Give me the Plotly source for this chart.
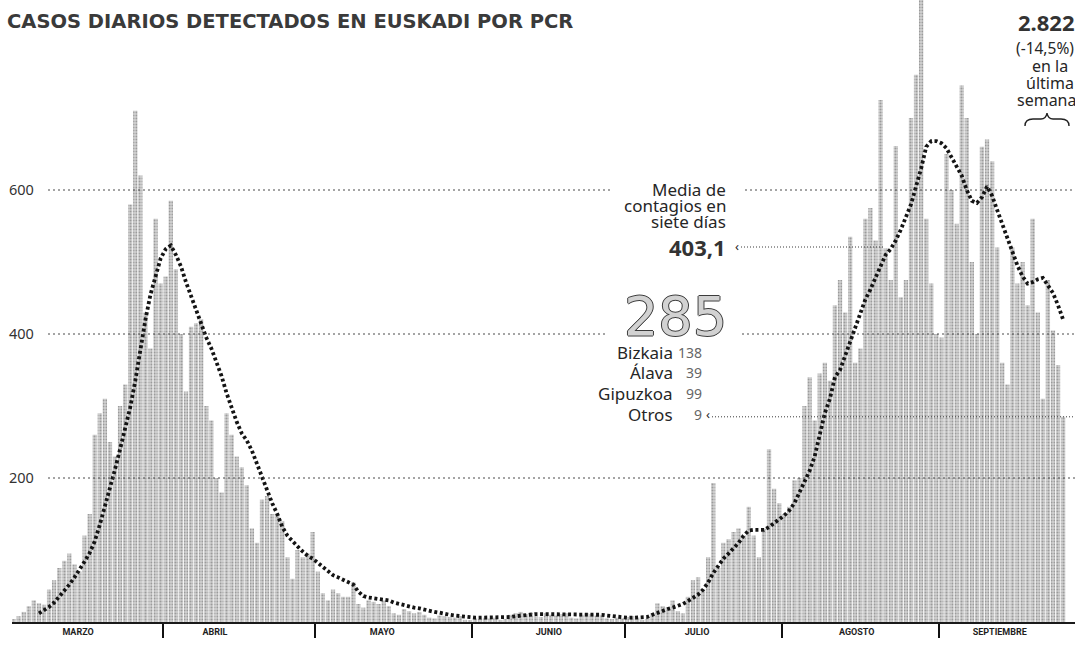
import plotly.graph_objects as go
import pandas as pd

# ---------------- data ----------------
start_date = "2020-03-01"

cases = [
    # marzo
    2, 4, 8, 14, 22, 30, 26, 24, 45, 58, 75, 85, 95, 80, 70, 120, 150, 260, 290, 310,
    250, 230, 300, 330, 580, 710, 620, 430, 380, 560, 470,
    # abril
    480, 585, 490, 400, 320, 410, 415, 420, 300, 280, 200, 180, 290, 260, 230, 215,
    190, 130, 110, 170, 175, 150, 150, 140, 90, 60, 100, 90, 95, 125,
    # mayo
    70, 40, 30, 45, 40, 35, 35, 55, 25, 20, 30, 28, 25, 30, 22, 12, 10, 18, 15, 12,
    14, 10, 6, 5, 9, 8, 7, 6, 8, 3, 2,
    # junio
    5, 4, 6, 5, 6, 3, 4, 10, 12, 14, 11, 13, 8, 7, 12, 10, 9, 11, 12, 6, 5, 10, 12,
    11, 9, 10, 5, 4, 6, 5,
    # julio
    7, 8, 6, 3, 4, 12, 26, 22, 20, 30, 15, 12, 35, 58, 62, 45, 90, 193, 75, 110, 115,
    125, 130, 120, 160, 120, 90, 130, 240, 185, 165,
    # agosto
    150, 160, 197, 200, 300, 340, 280, 345, 360, 335, 440, 475, 430, 535, 360, 380,
    560, 575, 530, 725, 519, 475, 661, 451, 475, 700, 760, 880, 560, 470, 400,
    # septiembre
    395, 650, 600, 553, 745, 700, 500, 400, 660, 670, 640, 520, 360, 330, 520, 470,
    500, 440, 560, 430, 310, 475, 405, 357, 285,
]

avg7 = [None] * 6 + [
    12, 16, 21, 27, 35, 43, 52, 62, 72, 84, 96, 112, 135, 160, 185, 212, 240, 268,
    298, 335, 380, 420, 455, 480, 505,
    518, 523, 510, 494, 472, 452, 432, 412, 395, 380, 362, 342, 318, 296, 278, 262,
    252, 238, 220, 200, 185, 165, 150, 132, 120, 112, 105, 98, 92, 88,
    82, 76, 70, 65, 62, 59, 56, 52, 42, 36, 34, 33, 33, 32, 30, 27, 25, 23, 21, 20,
    19, 17, 15, 14, 13, 11, 10, 9, 8, 7, 7,
    6, 6, 6, 6, 6, 6, 6, 7, 8, 9, 10, 11, 11, 11, 11, 11, 10, 10, 10, 10, 10, 10, 10,
    10, 10, 10, 9, 8, 7, 7,
    6, 6, 6, 6, 7, 10, 13, 16, 18, 20, 22, 25, 29, 34, 38, 45, 55, 68, 78, 88, 95,
    102, 110, 120, 127, 128, 128, 128, 132, 137, 142,
    148, 155, 165, 180, 195, 210, 230, 258, 290, 310, 340, 350, 370, 390, 410, 430,
    448, 462, 478, 495, 510, 518, 530, 545, 562, 580, 605, 630, 660, 668, 668,
    665, 658, 645, 632, 620, 600, 585, 582, 590, 605, 592, 572, 552, 532, 515, 495,
    480, 470, 472, 476, 478, 468, 457, 440, 420, 403.1,
]

month_starts = ["2020-04-01", "2020-05-01", "2020-06-01", "2020-07-01",
                "2020-08-01", "2020-09-01"]
month_label_pos = ["2020-03-15 05:00", "2020-04-11 05:00", "2020-05-14 05:00",
                   "2020-06-16 02:00", "2020-07-15 07:00", "2020-08-15 19:00",
                   "2020-09-13 00:00"]
month_labels = ["MARZO", "ABRIL", "MAYO", "JUNIO", "JULIO", "AGOSTO", "SEPTIEMBRE"]
y_ticks = [0, 200, 400, 600]
y_ticktext = ["0", "200", "400", "600"]

dates = pd.date_range(start_date, periods=len(cases), freq="D")

# ---------------- layout geometry ----------------
W, H = 1075, 646
L, R, T, B = 12, 0, 0, 24
PW, PH = W - L - R, H - T - B
origin_px = 6.0      # pixel of 1 March 00:00
px_per_day = 5.07
t0 = pd.Timestamp(start_date)
x_left = t0 + pd.Timedelta(days=(L - origin_px) / px_per_day)
x_right = t0 + pd.Timedelta(days=(W - R - origin_px) / px_per_day)
y_top = PH / 0.72


def px(x):
    return (x - L) / PW


def py(y):
    return (T + PH - y) / PH


TXT = "#262626"
FONT = "Noto Sans"

fig = go.Figure()

fig.add_trace(go.Bar(
    x=dates, y=cases,
    xperiod=86400000, xperiodalignment="middle",
    marker=dict(
        color="#cfcfcf",
        line=dict(width=0),
        pattern=dict(shape=".", fgcolor="#646464", bgcolor="#d3d3d3",
                     size=3, solidity=0.4),
    ),
    hoverinfo="skip",
))

fig.add_trace(go.Scatter(
    x=dates, y=avg7, mode="lines",
    xperiod=86400000, xperiodalignment="middle",
    line=dict(color="#141414", width=3.8, dash="3px,2.6px"),
    connectgaps=False, hoverinfo="skip",
))

shapes = []
# gridlines (dotted, drawn above bars, interrupted by the text block)
grid_segments = {
    200: [(48, 1075)],
    400: [(48, 606), (742, 1075)],
    600: [(48, 610), (745, 1075)],
}
for val in y_ticks[1:]:
    for a, b in grid_segments[val]:
        shapes.append(dict(type="line", xref="paper", yref="y",
                           x0=px(a), x1=px(b), y0=val, y1=val, layer="above",
                           line=dict(color="#4a4a4a", width=1, dash="2px,3px")))

# leader from "403,1"
shapes.append(dict(type="line", xref="paper", yref="paper",
                   x0=px(741), x1=px(884), y0=py(247), y1=py(247), layer="above",
                   line=dict(color="#3a3a3a", width=1, dash="1px,2px")))
# leader from "Otros 9" at the level of the last day's bar
shapes.append(dict(type="line", xref="paper", yref="y",
                   x0=px(712), x1=1, y0=cases[-1], y1=cases[-1], layer="above",
                   line=dict(color="#3a3a3a", width=1, dash="1px,2px")))

# brace under "semana"
pts = [(1025, 126), (1025, 119), (1033, 119), (1041, 119), (1046, 119), (1047, 113),
       (1048, 119), (1053, 119), (1061, 119), (1069, 119), (1069, 126)]
P = [f"{px(a):.5f},{py(b):.5f}" for a, b in pts]
path = (f"M {P[0]} Q {P[1]} {P[2]} L {P[3]} Q {P[4]} {P[5]} "
        f"Q {P[6]} {P[7]} L {P[8]} Q {P[9]} {P[10]}")
shapes.append(dict(type="path", xref="paper", yref="paper", path=path,
                   layer="above", line=dict(color="#222", width=1.4)))

anns = []


def ann(text, x, y, size, xanchor="center", weight="normal", color=TXT,
        family=FONT, shadow=None):
    f = dict(family=family, size=size, color=color, weight=weight)
    if shadow:
        f["shadow"] = shadow
    anns.append(dict(text=text, xref="paper", yref="paper", x=px(x), y=py(y),
                     xanchor=xanchor, yanchor="middle", showarrow=False,
                     font=f))


outline = "1px 0 0 #3c3c3c, -1px 0 0 #3c3c3c, 0 1px 0 #3c3c3c, 0 -1px 0 #3c3c3c"

# title
ann("CASOS DIARIOS DETECTADOS EN EUSKADI POR PCR", 5, 22, 19.5, "left", "bold",
    "#3a3a3a", "DejaVu Sans")

# 7-day average block
ann("Media de", 728, 190, 17, "right")
ann("contagios en", 728, 205.5, 17, "right")
ann("siete días", 728, 221, 17, "right")
ann("403,1", 728, 247, 22, "right", "bold", "#333333")
ann("‹", 737, 246, 13, "center")

# daily total block
ann("285", 729, 316, 54, "right", "normal", "#d2d2d2", "DejaVu Sans", outline)
rows = [("Bizkaia", "138", 352), ("Álava", "39", 372), ("Gipuzkoa", "99", 393),
        ("Otros", "9", 414)]
for lab, num, yy in rows:
    ann(lab, 675, yy, 17, "right")
    ann(num, 704, yy, 14, "right", "normal", "#666666")
ann("‹", 708, 414, 13, "center")

# weekly total block (right, cut by the edge)
ann("2.822", 1046, 22, 22, "center", "bold", "#333333")
ann("(-14,5%)", 1045, 48, 15.5, "center")
ann("en la", 1050, 66, 16, "center")
ann("última", 1050, 83, 16, "center")
ann("semana", 1047, 100, 16, "center")

fig.update_layout(
    width=W, height=H,
    margin=dict(l=L, r=R, t=T, b=B),
    plot_bgcolor="white", paper_bgcolor="white",
    showlegend=False, bargap=0.15,
    shapes=shapes, annotations=anns,
    xaxis=dict(
        type="date", range=[x_left, x_right],
        showgrid=False, zeroline=False,
        showline=True, linecolor="#1a1a1a", linewidth=1.5,
        tickmode="array", tickvals=month_label_pos, ticktext=month_labels,
        ticks="outside", ticklen=0, tickcolor="white",
        tickfont=dict(family="Roboto", size=9, color="#1e1e1e", weight="bold"),
        minor=dict(tickmode="array", tickvals=month_starts, ticks="outside",
                   ticklen=14, tickwidth=2, tickcolor="#111111", showgrid=False),
    ),
    yaxis=dict(
        range=[0, y_top], showgrid=False, zeroline=False, showline=False,
        tickmode="array", tickvals=y_ticks, ticktext=y_ticktext,
        ticklabelposition="inside", ticklabelstandoff=-6, ticks="",
        tickfont=dict(family=FONT, size=14.5, color="#333333"),
    ),
)

fig.write_html("out.html", config={"displayModeBar": False},
               post_script="document.body.style.margin='0';")
